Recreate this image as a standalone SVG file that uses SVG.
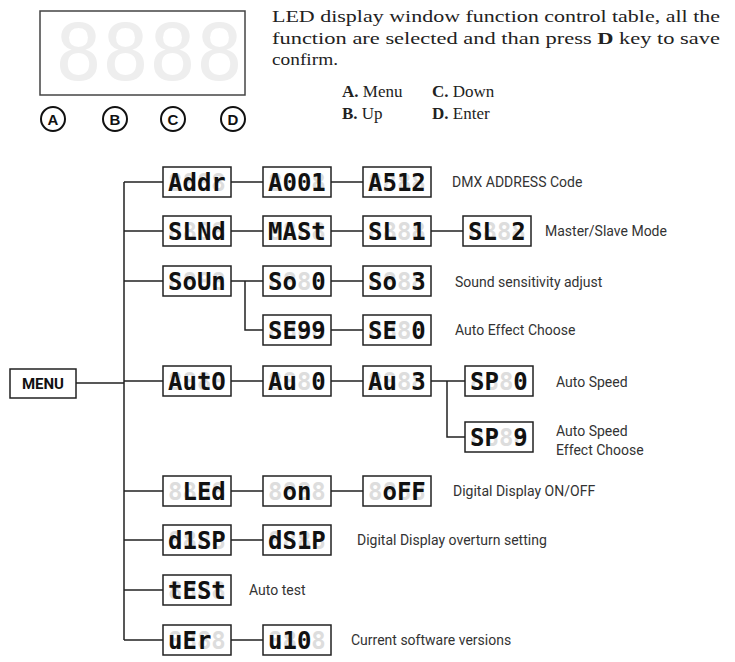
<svg xmlns="http://www.w3.org/2000/svg" width="735" height="662" viewBox="0 0 735 662">
<style>
.box{fill:#fff;stroke:#222;stroke-width:1.5}
.bg{font-family:"DejaVu Sans Mono",monospace;font-weight:bold;font-size:24px;fill:#ddd}
.fg{font-family:"DejaVu Sans Mono",monospace;font-weight:bold;font-size:24px;fill:#111;white-space:pre}
.lbl{font-family:Roboto,"Liberation Sans",sans-serif;font-size:14px;fill:#333}
.ser{font-family:"Liberation Serif",serif;font-size:17px;fill:#222}
.ln{stroke:#222;stroke-width:1.5;fill:none}
.circ{fill:#fff;stroke:#111;stroke-width:2}
.cl{font-family:"Liberation Sans",sans-serif;font-weight:bold;font-size:15px;fill:#111;text-anchor:middle}
</style>
<g id="display">
<rect x="40" y="11" width="205" height="84" fill="#fff" stroke="#444" stroke-width="1.5"/>
<text x="55" y="80" style="font-family:'DejaVu Sans Mono',monospace;font-size:78px;fill:#eee">8888</text>
</g>
<g id="keys">
<circle class="circ" cx="53" cy="119" r="12"/><text class="cl" x="53" y="125">A</text>
<circle class="circ" cx="115" cy="119" r="12"/><text class="cl" x="115" y="125">B</text>
<circle class="circ" cx="173" cy="119" r="12"/><text class="cl" x="173" y="125">C</text>
<circle class="circ" cx="233" cy="119" r="12"/><text class="cl" x="233" y="125">D</text>
</g>
<g id="header">
<text class="ser" x="272" y="22" textLength="448" lengthAdjust="spacingAndGlyphs">LED display window function control table, all the</text>
<text class="ser" x="272" y="44" textLength="448" lengthAdjust="spacingAndGlyphs">function are selected and than press <tspan font-weight="bold">D</tspan> key to save</text>
<text class="ser" x="272" y="65" textLength="66" lengthAdjust="spacingAndGlyphs">confirm.</text>
<text class="ser" x="342" y="97"><tspan font-weight="bold">A.</tspan> Menu</text>
<text class="ser" x="432" y="97"><tspan font-weight="bold">C.</tspan> Down</text>
<text class="ser" x="342" y="119"><tspan font-weight="bold">B.</tspan> Up</text>
<text class="ser" x="432" y="119"><tspan font-weight="bold">D.</tspan> Enter</text>
</g>
<g id="connectors">
<path class="ln" d="M76 383H124M124 182V640"/>
<path class="ln" d="M124 182H163M231 182H263M331 182H363"/>
<path class="ln" d="M124 231H163M231 231H263M331 231H363M431 231H463"/>
<path class="ln" d="M124 281H163M231 281H263M331 281H363M245 281V330H263M331 330H363"/>
<path class="ln" d="M124 381H163M231 381H263M331 381H363M431 381H465M447 381V437H465"/>
<path class="ln" d="M124 491H163M231 491H263M331 491H363"/>
<path class="ln" d="M124 540H163M231 540H263"/>
<path class="ln" d="M124 590H163"/>
<path class="ln" d="M124 640H163M231 640H263"/>
</g>
<g id="menu"><rect x="10" y="369" width="66" height="29" fill="#fff" stroke="#222" stroke-width="1.5"/><text x="43" y="389" text-anchor="middle" style="font-family:Roboto,'Liberation Sans',sans-serif;font-weight:bold;font-size:15px;fill:#111">MENU</text></g>

<g id="addr"><rect class="box" x="163" y="167" width="68" height="30"/><text class="bg" x="168" y="191">8888</text><text class="fg" x="168" y="191">Addr</text></g>
<g id="a001"><rect class="box" x="263" y="167" width="68" height="30"/><text class="bg" x="268" y="191">8888</text><text class="fg" x="268" y="191">A001</text></g>
<g id="a512"><rect class="box" x="363" y="167" width="68" height="30"/><text class="bg" x="368" y="191">8888</text><text class="fg" x="368" y="191">A512</text></g>
<text class="lbl" x="452" y="187">DMX ADDRESS Code</text>

<g id="slnd"><rect class="box" x="163" y="216" width="68" height="30"/><text class="bg" x="168" y="240">8888</text><text class="fg" x="168" y="240">SLNd</text></g>
<g id="mast"><rect class="box" x="263" y="216" width="68" height="30"/><text class="bg" x="268" y="240">8888</text><text class="fg" x="268" y="240">MASt</text></g>
<g id="sl1"><rect class="box" x="363" y="216" width="68" height="30"/><text class="bg" x="368" y="240">8888</text><text class="fg" x="368" y="240">SL 1</text></g>
<g id="sl2"><rect class="box" x="463" y="216" width="68" height="30"/><text class="bg" x="468" y="240">8888</text><text class="fg" x="468" y="240">SL 2</text></g>
<text class="lbl" x="545" y="236">Master/Slave Mode</text>

<g id="soun"><rect class="box" x="163" y="266" width="68" height="30"/><text class="bg" x="168" y="290">8888</text><text class="fg" x="168" y="290">SoUn</text></g>
<g id="so0"><rect class="box" x="263" y="266" width="68" height="30"/><text class="bg" x="268" y="290">8888</text><text class="fg" x="268" y="290">So 0</text></g>
<g id="so3"><rect class="box" x="363" y="266" width="68" height="30"/><text class="bg" x="368" y="290">8888</text><text class="fg" x="368" y="290">So 3</text></g>
<text class="lbl" x="455" y="287">Sound sensitivity adjust</text>
<g id="se99"><rect class="box" x="263" y="315" width="68" height="30"/><text class="bg" x="268" y="339">8888</text><text class="fg" x="268" y="339">SE99</text></g>
<g id="se0"><rect class="box" x="363" y="315" width="68" height="30"/><text class="bg" x="368" y="339">8888</text><text class="fg" x="368" y="339">SE 0</text></g>
<text class="lbl" x="455" y="335">Auto Effect Choose</text>

<g id="auto"><rect class="box" x="163" y="366" width="68" height="30"/><text class="bg" x="168" y="390">8888</text><text class="fg" x="168" y="390">AutO</text></g>
<g id="au0"><rect class="box" x="263" y="366" width="68" height="30"/><text class="bg" x="268" y="390">8888</text><text class="fg" x="268" y="390">Au 0</text></g>
<g id="au3"><rect class="box" x="363" y="366" width="68" height="30"/><text class="bg" x="368" y="390">8888</text><text class="fg" x="368" y="390">Au 3</text></g>
<g id="sp0"><rect class="box" x="465" y="366" width="68" height="30"/><text class="bg" x="470" y="390">8888</text><text class="fg" x="470" y="390">SP 0</text></g>
<text class="lbl" x="556" y="387">Auto Speed</text>
<g id="sp9"><rect class="box" x="465" y="422" width="68" height="30"/><text class="bg" x="470" y="446">8888</text><text class="fg" x="470" y="446">SP 9</text></g>
<text class="lbl" x="556" y="436">Auto Speed</text>
<text class="lbl" x="556" y="455">Effect Choose</text>

<g id="led"><rect class="box" x="163" y="476" width="68" height="30"/><text class="bg" x="168" y="500">8888</text><text class="fg" x="168" y="500"> LEd</text></g>
<g id="on"><rect class="box" x="263" y="476" width="68" height="30"/><text class="bg" x="268" y="500">8888</text><text class="fg" x="268" y="500"> on </text></g>
<g id="off"><rect class="box" x="363" y="476" width="68" height="30"/><text class="bg" x="368" y="500">8888</text><text class="fg" x="368" y="500"> oFF</text></g>
<text class="lbl" x="453" y="496">Digital Display ON/OFF</text>

<g id="disp"><rect class="box" x="163" y="525" width="68" height="30"/><text class="bg" x="168" y="549">8888</text><text class="fg" x="168" y="549">d1SP</text></g>
<g id="ds1p"><rect class="box" x="263" y="525" width="68" height="30"/><text class="bg" x="268" y="549">8888</text><text class="fg" x="268" y="549">dS1P</text></g>
<text class="lbl" x="357" y="545">Digital Display overturn setting</text>

<g id="test"><rect class="box" x="163" y="575" width="68" height="30"/><text class="bg" x="168" y="599">8888</text><text class="fg" x="168" y="599">tESt</text></g>
<text class="lbl" x="249" y="595">Auto test</text>

<g id="ver"><rect class="box" x="163" y="625" width="68" height="30"/><text class="bg" x="168" y="649">8888</text><text class="fg" x="168" y="649">uEr </text></g>
<g id="u10"><rect class="box" x="263" y="625" width="68" height="30"/><text class="bg" x="268" y="649">8888</text><text class="fg" x="268" y="649">u10 </text></g>
<text class="lbl" x="351" y="645">Current software versions</text>
</svg>
